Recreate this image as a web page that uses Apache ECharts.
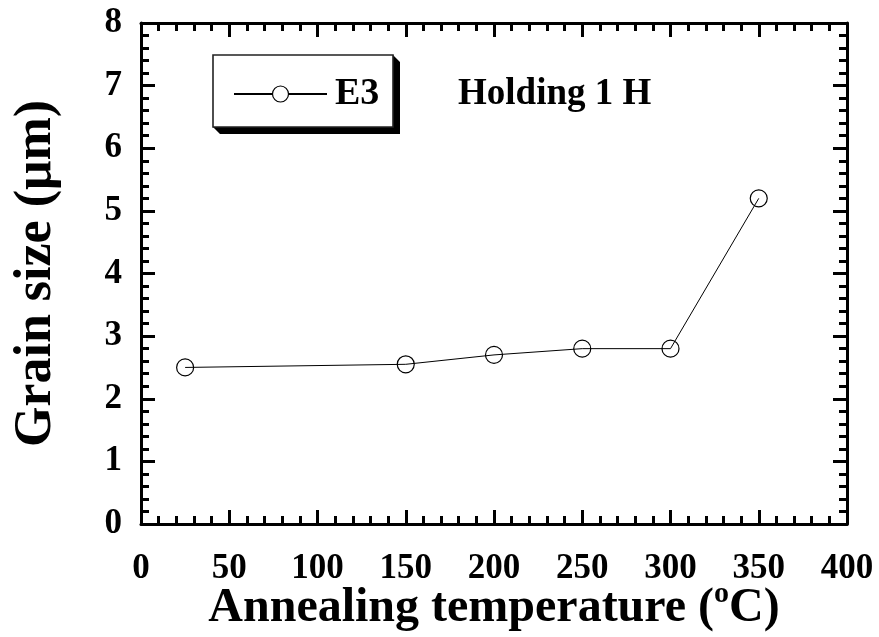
<!DOCTYPE html>
<html>
<head>
<meta charset="utf-8">
<script src="https://cdn.jsdelivr.net/npm/echarts@6/dist/echarts.min.js"></script>
<style>
  html, body { margin: 0; padding: 0; background: #fff; }
  #chart { width: 879px; height: 637px; }
</style>
</head>
<body>
<div id="chart"></div>
<script>
// Annealing temperature (°C) and measured grain size (µm) for sample E3
const temperatures = [25, 150, 200, 250, 300, 350];
const grainSizes = [2.5, 2.55, 2.7, 2.8, 2.8, 5.2];
const seriesName = 'E3';
const noteText = 'Holding 1 H';

const FONT = '"Liberation Serif", "Times New Roman", serif';

const chart = echarts.init(document.getElementById('chart'));

const tickStyle = { color: '#000', width: 3 };
const frame = { show: true, onZero: false, lineStyle: { color: '#000', width: 3 } };

function xAxisCfg(pos, labels) {
  return {
    type: 'value', position: pos, min: 0, max: 400, interval: 50,
    axisLine: frame,
    axisTick: { show: true, inside: true, length: 14, lineStyle: tickStyle },
    minorTick: { show: true, splitNumber: 5, length: 8, lineStyle: tickStyle },
    splitLine: { show: false },
    axisLabel: labels ? { show: true, fontFamily: FONT, fontWeight: 'bold', fontSize: 35, color: '#000', margin: 27 } : { show: false }
  };
}
function yAxisCfg(pos, labels) {
  return {
    type: 'value', position: pos, min: 0, max: 8, interval: 1,
    axisLine: frame,
    axisTick: { show: true, inside: true, length: 14, lineStyle: tickStyle },
    minorTick: { show: true, splitNumber: 5, length: 8, lineStyle: tickStyle },
    splitLine: { show: false },
    axisLabel: labels ? { show: true, fontFamily: FONT, fontWeight: 'bold', fontSize: 35, color: '#000', margin: 19 } : { show: false }
  };
}

const xBottom = xAxisCfg('bottom', true);
xBottom.name = 'Annealing temperature ({sup|o}C)';
xBottom.nameLocation = 'middle';
xBottom.nameGap = 55;
xBottom.nameMoveOverlap = false;
xBottom.nameTextStyle = {
  fontFamily: FONT, fontWeight: 'bold', fontSize: 48, color: '#000',
  rich: { sup: { fontFamily: FONT, fontWeight: 'bold', fontSize: 30, color: '#000', verticalAlign: 'top', padding: [0, 0, 30, 0] } }
};

const yLeft = yAxisCfg('left', true);
yLeft.name = 'Grain size (\u03bcm)';
yLeft.nameLocation = 'middle';
yLeft.nameGap = 78;
yLeft.nameMoveOverlap = false;
yLeft.nameTextStyle = { fontFamily: FONT, fontWeight: 'bold', fontSize: 52, color: '#000' };

const xTop = xAxisCfg('top', false);
const yRight = yAxisCfg('right', false);

chart.setOption({
  animation: false,
  backgroundColor: '#fff',
  grid: { left: 141, right: 32, top: 23, bottom: 113, containLabel: false, outerBoundsMode: 'none' },
  xAxis: [xBottom, xTop],
  yAxis: [yLeft, yRight],
  legend: {
    show: true,
    left: 228, top: 70, padding: 5,
    itemWidth: 93, itemHeight: 20, itemGap: 8,
    itemStyle: { color: '#fff', borderColor: '#000', borderWidth: 1.2 },
    textStyle: { fontFamily: FONT, fontWeight: 'bold', fontSize: 38, color: '#000', padding: [0, 0, 0, 3] },
    data: [seriesName]
  },
  graphic: [
    // bevelled drop shadow behind the legend box
    { type: 'polygon', z: 0, shape: { points: [[393, 55], [400, 62], [400, 134], [220, 134], [213, 127], [393, 127]] }, style: { fill: '#000' } },
    { type: 'rect', z: 1, shape: { x: 213, y: 55, width: 180, height: 72 }, style: { fill: '#fff', stroke: '#222', lineWidth: 1.6 } },
    { type: 'text', z: 2, left: 458, top: 76, style: { text: noteText, fontFamily: FONT, fontWeight: 'bold', fontSize: 37, fill: '#000' } }
  ],
  series: [{
    name: seriesName,
    type: 'line',
    data: temperatures.map((t, i) => [t, grainSizes[i]]),
    symbol: 'circle',
    symbolSize: 17,
    showAllSymbol: true,
    lineStyle: { color: '#000', width: 1 },
    itemStyle: { color: 'rgba(255,255,255,0)', borderColor: '#000', borderWidth: 1.2 },
    z: 3
  }]
});
</script>
</body>
</html>
